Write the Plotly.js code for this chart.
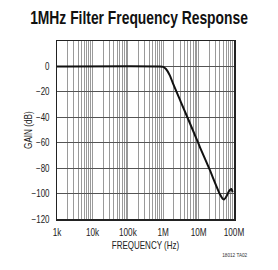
<!DOCTYPE html>
<html>
<head>
<meta charset="utf-8">
<script src="https://cdn.plot.ly/plotly-3.0.1.min.js"></script>
<style>html,body{margin:0;padding:0;background:#fff;}#chart{width:278px;height:270px;}</style>
</head>
<body>
<div id="chart"></div>
<script>
// Frequency response data (Hz, dB)
const freqHz = [1000, 794000, 1000000, 1200000, 1550000, 1900000, 3160000, 8900000, 11100000, 20400000, 40700000, 47900000, 52500000, 60300000, 72400000, 85100000, 91200000];
const gainDb = [0, 0, -0.3, -2, -7.2, -13.6, -28, -57.5, -64, -81, -101, -104, -104.6, -102.5, -98, -96.4, -99];

const decadeVals = [1e3, 1e4, 1e5, 1e6, 1e7, 1e8];
const decadeLabels = ['1k', '10k', '100k', '1M', '10M', '100M'];
const gainTicks = [20, 0, -20, -40, -60, -80, -100, -120];
const gainLabels = ['', '0', '\u221220', '\u221240', '\u221260', '\u221280', '\u2212100', '\u2212120'];

// grid positions on the log axis: 1..9 within each decade
const xTickVals = [];
const xTickText = [];
decadeVals.forEach((d, i) => {
  for (let m = 1; m <= 9; m++) {
    if (i === decadeVals.length - 1 && m > 1) break;
    xTickVals.push(d * m);
    xTickText.push(m === 1 ? decadeLabels[i] : '');
  }
});

const font = 'Liberation Sans Narrow, Arial Narrow, Liberation Sans, Arial, sans-serif';

const trace = {
  x: freqHz, y: gainDb, type: 'scatter', mode: 'lines',
  line: {color: '#111', width: 2, shape: 'spline', smoothing: 0.6},
  hoverinfo: 'none'
};

const layout = {
  width: 278, height: 270,
  margin: {l: 57, r: 44, t: 41, b: 51},
  paper_bgcolor: '#fff', plot_bgcolor: '#fff',
  showlegend: false,
  font: {family: font, size: 10, color: '#222'},
  title: {
    text: '<b>1MHz Filter Frequency Response</b>',
    font: {family: font, size: 18, color: '#111'},
    x: 0.5, xanchor: 'center', xref: 'container',
    y: 0.935, yanchor: 'middle', yref: 'container'
  },
  xaxis: {
    type: 'log', range: [3, 8],
    tickmode: 'array', tickvals: xTickVals, ticktext: xTickText,
    showgrid: true, gridcolor: '#9a9a9a', gridwidth: 1,
    showline: true, mirror: true, linecolor: '#222', linewidth: 1.5,
    ticks: '', ticklabelstandoff: 4,
    tickfont: {family: font, size: 10, color: '#222'},
    zeroline: false,
    title: {text: 'FREQUENCY (Hz)', font: {family: font, size: 10, color: '#222'}, standoff: 4}
  },
  yaxis: {
    range: [-120, 20],
    tickmode: 'array', tickvals: gainTicks, ticktext: gainLabels,
    showgrid: true, gridcolor: '#555', gridwidth: 1,
    showline: true, mirror: true, linecolor: '#222', linewidth: 1.5,
    ticks: '', ticklabelstandoff: 4,
    tickfont: {family: font, size: 10, color: '#222'},
    zeroline: false
  },
  annotations: [{
    text: 'GAIN (dB)', xref: 'paper', yref: 'paper',
    x: -0.163, y: 0.5, xanchor: 'center', yanchor: 'middle', textangle: -90,
    showarrow: false, font: {family: font, size: 10, color: '#222'}
  }, {
    text: '18012 TA02', xref: 'paper', yref: 'paper',
    x: 1.0, y: -0.2, xanchor: 'center', yanchor: 'middle',
    showarrow: false, font: {family: font, size: 5.5, color: '#333'}
  }]
};

// wrap an SVG element in a group and squeeze it (sx, sy) around an anchor of its box
function squeeze(el, sx, sy, ax, ay) {
  const ns = 'http://www.w3.org/2000/svg';
  const wrap = document.createElementNS(ns, 'g');
  el.parentNode.insertBefore(wrap, el);
  wrap.appendChild(el);
  const bb = wrap.getBBox();
  if (!bb.width) return;
  const cx = bb.x + bb.width * ax;
  const cy = bb.y + bb.height * ay;
  wrap.setAttribute('transform', 'translate(' + cx + ',' + cy + ') scale(' + sx + ',' + sy + ') translate(' + (-cx) + ',' + (-cy) + ')');
}

Plotly.newPlot('chart', [trace], layout, {displayModeBar: false, staticPlot: true}).then(function (gd) {
  // condense texts horizontally to mimic a narrow typeface
  const t = gd.querySelector('.g-gtitle text');
  if (t) {
    const w = t.getBBox().width;
    squeeze(t, 218 / w, 1, 0.5, 0.5);
  }
  gd.querySelectorAll('.xtick text').forEach(el => squeeze(el, 0.82, 1, 0.5, 0.5));
  gd.querySelectorAll('.ytick text').forEach(el => squeeze(el, 0.8, 1, 1, 0.5));
  const xt = gd.querySelector('.g-xtitle text');
  if (xt) squeeze(xt, 0.8, 1, 0.5, 0.5);
  const anns = gd.querySelectorAll('.annotation');
  if (anns[0]) squeeze(anns[0], 1, 0.82, 0.5, 0.5);
  if (anns[1]) squeeze(anns[1], 0.85, 1, 0.5, 0.5);
});
</script>
</body>
</html>
